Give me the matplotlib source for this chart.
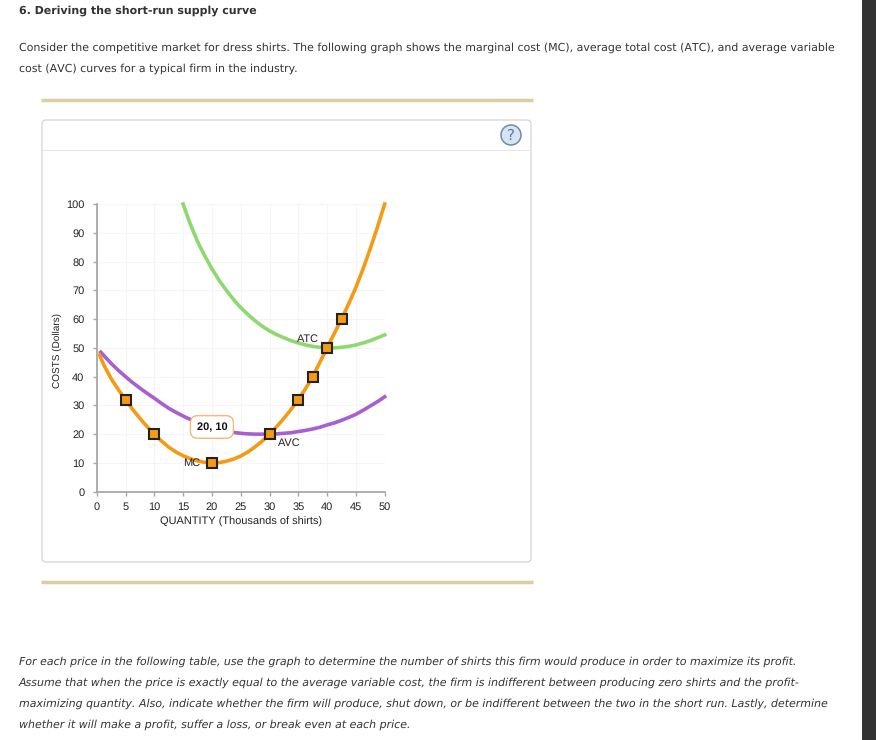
import matplotlib
matplotlib.use("Agg")
import matplotlib.pyplot as plt
from matplotlib.patches import FancyBboxPatch, Circle, Rectangle

plt.rcParams["text.hinting"] = "no_hinting"
plt.rcParams["text.hinting_factor"] = 1

# curve values
mc_q = [0.5, 1.25, 2.5, 3.75, 5, 6.25, 7.5, 8.75, 10, 11.25, 12.5, 13.75, 15, 16.25, 17.5, 18.75, 20, 21.25, 22.5, 23.75, 25,
        26.25, 27.5, 28.75, 30, 31.25, 32.5, 33.75, 35, 36.25, 37.5, 38.75, 40, 41.25, 42.5, 43.75, 45, 46.25, 47.5, 48.75, 50]
mc_cost = [47.5, 44, 39.3, 35.5, 32, 28.6, 25.5, 22.6, 20, 17.6, 15.5, 13.8, 12.5, 11.5, 10.7, 10.2, 10, 10.1, 10.6, 11.3, 12.4,
           13.8, 15.6, 17.6, 20, 22.6, 25.5, 28.6, 32, 35.8, 40, 45, 50, 55, 60, 65.3, 71, 77.5, 84.5, 92, 100]

atc_q = [15, 16.25, 17.5, 18.75, 20, 21.25, 22.5, 23.75, 25, 26.25, 27.5, 28.75, 30, 31.25, 32.5, 33.75, 35,
         36.25, 37.5, 38.75, 40, 41.25, 42.5, 43.75, 45, 46.25, 47.5, 48.75, 50]
atc_cost = [100, 93, 87, 82, 77.5, 73.5, 70, 66.8, 64, 61.6, 59.4, 57.5, 55.9, 54.6, 53.5, 52.5, 51.7,
            51, 50.5, 50.2, 50, 50, 50.2, 50.5, 51, 51.7, 52.5, 53.5, 54.5]

avc_q = [0.7, 1.25, 2.5, 3.75, 5, 6.25, 7.5, 8.75, 10, 11.25, 12.5, 13.75, 15, 16.25, 17.5, 18.75, 20, 21.25, 22.5, 23.75, 25,
         26.25, 27.5, 28.75, 30, 31.25, 32.5, 33.75, 35, 36.25, 37.5, 38.75, 40, 41.25, 42.5, 43.75, 45, 46.25, 47.5, 48.75, 50]
avc_cost = [48.5, 47.3, 44.6, 42.2, 40, 37.9, 36, 34.2, 32.5, 30.7, 29, 27.6, 26.3, 25.1, 24, 23.1, 22.3, 21.6, 21, 20.6, 20.3,
            20.1, 20, 20, 20, 20.1, 20.3, 20.5, 20.9, 21.3, 21.8, 22.4, 23.2, 23.9, 24.8, 25.8, 26.9, 28.3, 29.8, 31.3, 33]

point_q = [5, 10, 20, 30, 35, 37.5, 40, 42.5]
point_cost = [32, 20, 10, 20, 32, 40, 50, 60]

x_ticks = list(range(0, 55, 5))
y_ticks = list(range(0, 110, 10))

title = "6. Deriving the short-run supply curve"
intro = ["Consider the competitive market for dress shirts. The following graph shows the marginal cost (MC), average total cost (ATC), and average variable",
         "cost (AVC) curves for a typical firm in the industry."]
outro = ["For each price in the following table, use the graph to determine the number of shirts this firm would produce in order to maximize its profit.",
         "Assume that when the price is exactly equal to the average variable cost, the firm is indifferent between producing zero shirts and the profit-",
         "maximizing quantity. Also, indicate whether the firm will produce, shut down, or be indifferent between the two in the short run. Lastly, determine",
         "whether it will make a profit, suffer a loss, or break even at each price."]

W, H = 876, 740
fig = plt.figure(figsize=(W/100, H/100), dpi=100, facecolor="white")

# page layer, in pixels of the screenshot
page = fig.add_axes([0, 0, 1, 1])
page.set_xlim(0, W)
page.set_ylim(H, 0)
page.axis("off")

page.add_patch(Rectangle((862, 0), 14, H, color="#333333", lw=0))
page.plot([41, 533], [100, 100], color="#d8cfa2", lw=2.5, solid_capstyle="butt")
page.plot([41, 533], [582, 582], color="#d8cfa2", lw=2.5, solid_capstyle="butt")
page.add_patch(FancyBboxPatch((42, 120), 489, 442, boxstyle="round,pad=0,rounding_size=4",
                              fc="white", ec="#cfcfcf", lw=0.8))
page.plot([43, 530], [150, 150], color="#e8e8e8", lw=0.8)
page.add_patch(Circle((511, 135), 10, fc="#d6e4f4", ec="#6f8ca8", lw=1.1))
page.text(511, 135.5, "?", ha="center", va="center", fontsize=11, color="#5b7fa3")

text_color = "#333333"
page.text(19, 10.5, title, fontsize=7.77, fontweight="bold", color=text_color, va="center")
for i, line in enumerate(intro):
    page.text(19, 47.7 + 21*i, line, fontsize=7.86, color=text_color, va="center")
for i, line in enumerate(outro):
    page.text(19, 661.5 + 21*i, line, fontsize=7.97, style="italic", color=text_color, va="center")

# graph
ax = fig.add_axes([96.7/W, (H-491.7)/H, 288/W, 287.7/H])
ax.patch.set_alpha(0)
ax.set_xlim(0, 50)
ax.set_ylim(0, 100)
ax.set_xticks(x_ticks)
ax.set_yticks(y_ticks)
ax.grid(True, color="#f5f5f5", lw=0.8)
ax.set_axisbelow(True)
for s in ["top", "right"]:
    ax.spines[s].set_visible(False)
for s in ["left", "bottom"]:
    ax.spines[s].set_color("#a8a8a8")
    ax.spines[s].set_linewidth(1.3)
ax.tick_params(axis="x", length=3, width=1, color="#a8a8a8", labelsize=7.6, labelcolor="#222222", pad=4.3)
ax.tick_params(axis="y", length=3, width=1, color="#a8a8a8", labelsize=7.6, labelcolor="#222222", pad=5.8)
for lab in ax.get_xticklabels() + ax.get_yticklabels():
    lab.set_family("Liberation Sans")

ax.plot(atc_q, atc_cost, color="#8fd86f", lw=2.6, clip_on=False)
ax.plot(avc_q, avc_cost, color="#a95fd0", lw=2.6, clip_on=False)
ax.plot(mc_q, mc_cost, color="#f59a14", lw=2.6, clip_on=False)
ax.plot(point_q, point_cost, ls="none", marker="s", ms=7.5, mfc="#f59a14", mec="#222222", mew=1.5, clip_on=False)

ax.set_xlabel("QUANTITY (Thousands of shirts)", family="Liberation Sans", fontsize=7.7, color="#222222", va="center")
ax.xaxis.set_label_coords(0.4997, -0.106)
ax.set_ylabel("COSTS (Dollars)", family="Liberation Sans", fontsize=7.3, color="#222222", va="center")
ax.yaxis.set_label_coords(-0.138, 0.4925)

ax.text(36.7, 53, "ATC", family="Liberation Sans", fontsize=7.7, color="#222222", ha="center", va="center")
ax.text(33.5, 17, "AVC", family="Liberation Sans", fontsize=7.7, color="#222222", ha="center", va="center")
ax.text(16.5, 10, "MC", family="Liberation Sans", fontsize=7.7, color="#222222", ha="center", va="center")
ax.text(20, 22.5, "20, 10", family="Liberation Sans", fontsize=7.7, fontweight="bold", color="#111111", ha="center", va="center",
        bbox=dict(boxstyle="round,pad=0.58,rounding_size=0.7", fc="white", ec="#f4b878", lw=1))

fig.savefig("out.png", dpi=100)
